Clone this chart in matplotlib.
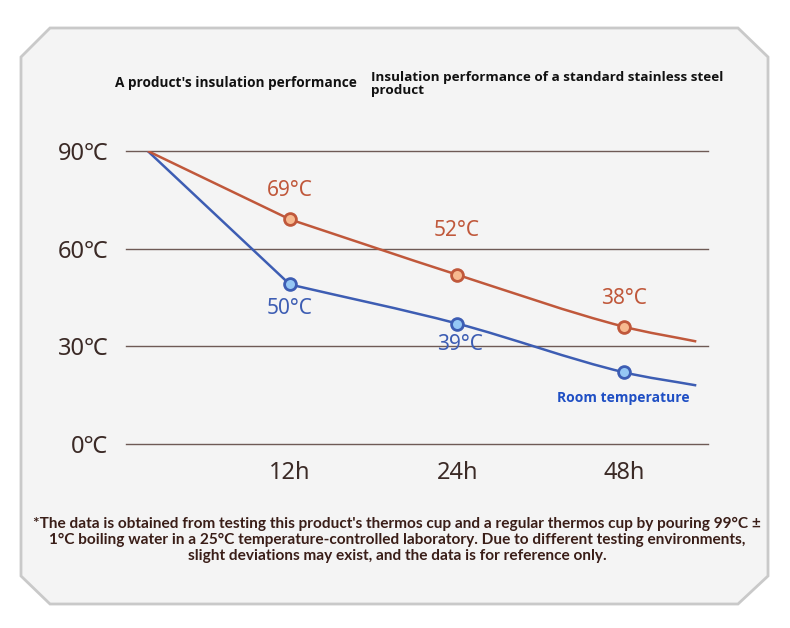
import matplotlib
matplotlib.use("Agg")
import matplotlib.pyplot as plt
from matplotlib.path import Path
from matplotlib.patches import PathPatch, Polygon

# data
hour_labels = ["12h", "24h", "48h"]
hour_pos = [1, 2, 3]
x_pos = [0.15, 1, 2, 3, 3.43]
product_temps = [90, 69, 52, 36, 31.5]
standard_temps = [90, 49, 37, 22, 18]
product_labels = ["69°C", "52°C", "38°C"]
standard_labels = ["50°C", "39°C"]
y_ticks = [0, 30, 60, 90]
y_tick_labels = ["0℃", "30℃", "60℃", "90℃"]

ORANGE = "#c0583b"
ORANGE_FILL = "#f7b98f"
BLUE = "#3d5db3"
BLUE_FILL = "#95c7f4"
BROWN = "#3b2a26"
GRID = "#6e5a55"
BOLD_FONT = ["Open Sans", "Lato", "DejaVu Sans"]

plt.rcParams["font.family"] = ["Noto Sans", "DejaVu Sans"]

W, H = 790, 628
fig = plt.figure(figsize=(W / 100, H / 100), dpi=100)
fig.patch.set_facecolor("white")

# background panel (octagon), in pixel coords
bg = fig.add_axes([0, 0, 1, 1])
bg.set_xlim(0, W)
bg.set_ylim(H, 0)
bg.axis("off")
octagon = [(21, 57), (50, 28), (738, 28), (768, 57), (768, 576),
           (738, 604), (50, 604), (21, 576)]
bg.add_patch(Polygon(octagon, closed=True, facecolor="#f4f4f4",
                     edgecolor="#c9c9c9", linewidth=2))

bg.text(115, 83, "A product's insulation performance", fontsize=9.8,
        fontweight="bold", color="#111111", va="center", ha="left",
        family=BOLD_FONT)
bg.text(371, 84, "Insulation performance of a standard stainless steel\nproduct",
        fontsize=9.7, fontweight="bold", color="#111111", va="center",
        ha="left", linespacing=1.0, family=BOLD_FONT)

note = ("*The data is obtained from testing this product's thermos cup and a regular thermos cup by pouring 99°C ±\n"
        "1°C boiling water in a 25°C temperature-controlled laboratory. Due to different testing environments,\n"
        "slight deviations may exist, and the data is for reference only.")
bg.text(397, 540, note, fontsize=11.1, fontweight="bold", color="#3a1e18",
        ha="center", va="center", linespacing=1.15,
        family=["Liberation Sans Narrow", "Lato", "DejaVu Sans"])

# main chart
left, right, top, bottom = 126, 708, 151, 444
ax = fig.add_axes([left / W, 1 - bottom / H, (right - left) / W, (bottom - top) / H])
ax.set_facecolor("none")
ax.set_xlim(0.02, 3.5)
ax.set_ylim(0, 90)
for s in ax.spines.values():
    s.set_visible(False)
for t in y_ticks:
    ax.axhline(t, color=GRID, lw=1, zorder=1, clip_on=False)

ax.set_yticks(y_ticks)
ax.set_yticklabels(y_tick_labels, fontsize=17, color=BROWN)
ax.set_xticks(hour_pos)
ax.set_xticklabels(hour_labels, fontsize=17, color=BROWN)
ax.tick_params(length=0)
ax.tick_params(axis="y", pad=13)
ax.tick_params(axis="x", pad=12)


def smooth_path(xs, ys):
    # straight first segment, then cubic Hermite curves through the rest
    verts = [(xs[0], ys[0]), (xs[1], ys[1])]
    codes = [Path.MOVETO, Path.LINETO]
    sx, sy = xs[1:], ys[1:]
    n = len(sx)
    sec = [(sy[i + 1] - sy[i]) / (sx[i + 1] - sx[i]) for i in range(n - 1)]
    slopes = [sec[0]] + [(sec[i - 1] + sec[i]) / 2 for i in range(1, n - 1)] + [sec[-1]]
    for i in range(n - 1):
        h = sx[i + 1] - sx[i]
        verts += [(sx[i] + h / 3, sy[i] + slopes[i] * h / 3),
                  (sx[i + 1] - h / 3, sy[i + 1] - slopes[i + 1] * h / 3),
                  (sx[i + 1], sy[i + 1])]
        codes += [Path.CURVE4] * 3
    return Path(verts, codes)


for temps, col, fill in [(standard_temps, BLUE, BLUE_FILL),
                         (product_temps, ORANGE, ORANGE_FILL)]:
    ax.add_patch(PathPatch(smooth_path(x_pos, temps), facecolor="none",
                           edgecolor=col, lw=1.8, zorder=3))
    ax.plot(x_pos[1:4], temps[1:4], "o", ms=8.5, mfc=fill, mec=col, mew=2,
            zorder=4)

prod_offsets = [(0, 29), (0, 44), (0, 28)]
for i, lab in enumerate(product_labels):
    ax.annotate(lab, (x_pos[i + 1], product_temps[i + 1]),
                xytext=prod_offsets[i], textcoords="offset pixels",
                ha="center", va="center", fontsize=15, color=ORANGE, zorder=5)
std_offsets = [(0, -24), (3, -21)]
for i, lab in enumerate(standard_labels):
    ax.annotate(lab, (x_pos[i + 1], standard_temps[i + 1]),
                xytext=std_offsets[i], textcoords="offset pixels",
                ha="center", va="center", fontsize=15, color=BLUE, zorder=5)

bg.text(623, 398, "Room temperature", fontsize=10, fontweight="bold",
        color="#1f4fc4", ha="center", va="center", family=BOLD_FONT)

fig.savefig("out.png", dpi=100, facecolor="white")
